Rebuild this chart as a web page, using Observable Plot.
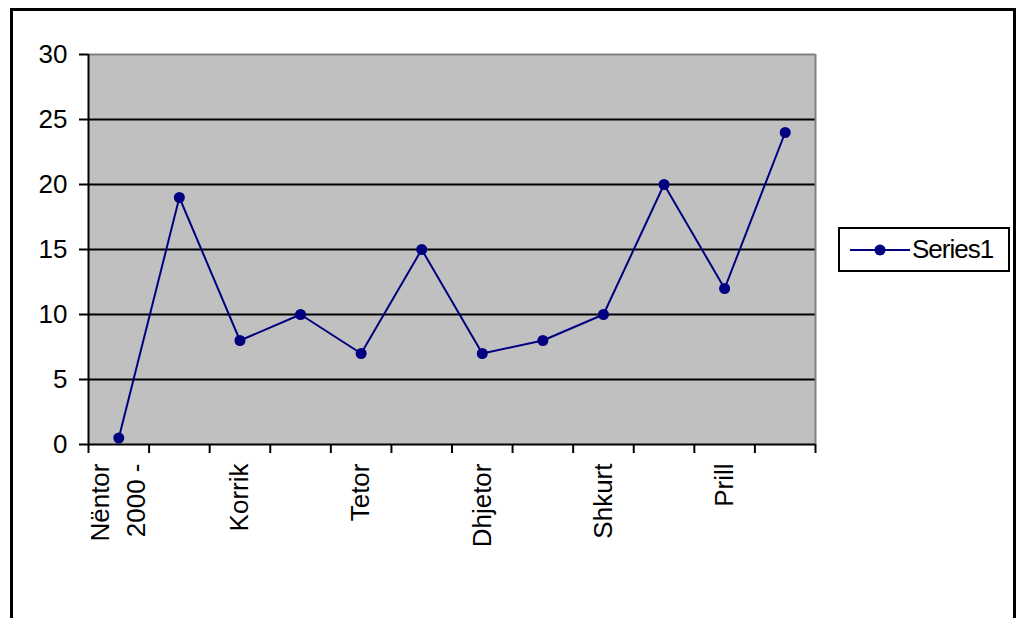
<!DOCTYPE html>
<html>
<head>
<meta charset="utf-8">
<script src="https://cdn.jsdelivr.net/npm/d3@7"></script>
<script src="https://cdn.jsdelivr.net/npm/@observablehq/plot@0.6"></script>
<style>
  html, body { margin: 0; padding: 0; background: #fff; overflow: hidden; }
  #wrap { position: relative; width: 1032px; height: 618px; }
  #border { position: absolute; left: 10px; top: 8px; width: 1006px; height: 700px; border: 3px solid #000; box-sizing: border-box; pointer-events: none; }
  #legend { position: absolute; left: 838px; top: 227px; width: 172px; height: 45px; border: 2px solid #000; box-sizing: border-box; background: #fff;
            font-family: "Liberation Sans", Arial, sans-serif; font-size: 26px; display: flex; align-items: center; }
  #legend svg { margin-left: 10px; }
  #legend span { margin-left: 2px; letter-spacing: -1px; }
  svg text { font-family: "Liberation Sans", Arial, sans-serif; }
</style>
</head>
<body>
<div id="wrap">
  <div id="chart"></div>
  <div id="border"></div>
  <div id="legend"><svg width="60" height="20"><line x1="0" y1="10" x2="60" y2="10" stroke="#000080" stroke-width="2"/><circle cx="30" cy="10" r="5.5" fill="#000080"/></svg><span id="legtext"></span></div>
</div>
<script>
// Data
const categoryIndex = [0, 1, 2, 3, 4, 5, 6, 7, 8, 9, 10, 11];
const categoryLabels = ["Nëntor\n2000 -", "", "Korrik", "", "Tetor", "", "Dhjetor", "", "Shkurt", "", "Prill", ""];
const series1 = [0.5, 19, 8, 10, 7, 15, 7, 8, 10, 20, 12, 24];
const seriesName = "Series1";
const yTicks = [0, 5, 10, 15, 20, 25, 30];
const gridValues = [5, 10, 15, 20, 25];
const xBoundaries = [-0.5, 0.5, 1.5, 2.5, 3.5, 4.5, 5.5, 6.5, 7.5, 8.5, 9.5, 10.5, 11.5];

const points = categoryIndex.map((i) => ({ i, v: series1[i], label: categoryLabels[i] }));

document.getElementById("legtext").textContent = seriesName;

const chart = Plot.plot({
  width: 1032,
  height: 618,
  marginLeft: 88,
  marginRight: 217,
  marginTop: 54,
  marginBottom: 174,
  style: { background: "transparent", overflow: "visible", fontFamily: "Liberation Sans, Arial, sans-serif" },
  x: { domain: [-0.5, 11.5] },
  y: { domain: [0, 30] },
  marks: [
    Plot.frame({ fill: "#c0c0c0" }),
    Plot.ruleY(gridValues, { stroke: "#000", strokeWidth: 2 }),
    Plot.ruleY([30], { stroke: "#808080", strokeWidth: 2 }),
    Plot.ruleX([11.5], { stroke: "#808080", strokeWidth: 2 }),
    Plot.ruleY([0], { stroke: "#000", strokeWidth: 2 }),
    Plot.ruleX([-0.5], { stroke: "#000", strokeWidth: 2 }),
    Plot.axisY({ ticks: yTicks, tickSize: 9, tickPadding: 12, fontSize: 26, label: null, stroke: "#000", strokeWidth: 2, color: "#000" }),
    Plot.axisX({ ticks: xBoundaries, tickSize: 9, tickFormat: () => "", label: null, stroke: "#000", strokeWidth: 2 }),
    Plot.text(points, {
      x: "i", y: () => 0, text: "label", rotate: -90, textAnchor: "end", lineAnchor: "middle",
      dx: -3, dy: 19, fontSize: 26, lineHeight: 1.35, fill: "#000"
    }),
    Plot.line(points, { x: "i", y: "v", stroke: "#000080", strokeWidth: 2 }),
    Plot.dot(points, { x: "i", y: "v", r: 5.5, fill: "#000080", stroke: "none" })
  ]
});
document.getElementById("chart").appendChild(chart);
</script>
</body>
</html>
